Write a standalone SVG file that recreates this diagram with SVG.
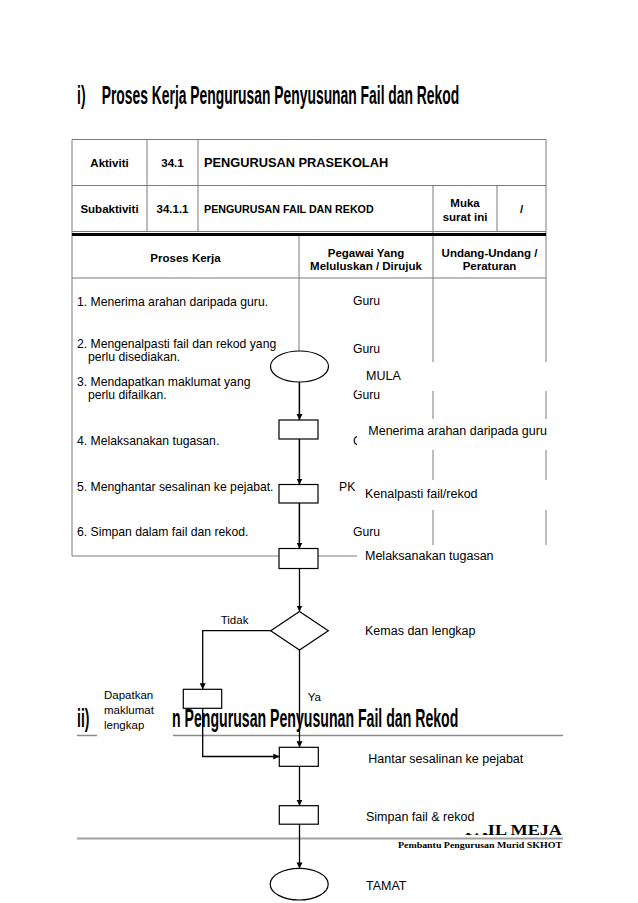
<svg xmlns="http://www.w3.org/2000/svg" width="638" height="903" viewBox="0 0 638 903">
<style>
.tl{stroke:#7a7a7a;stroke-width:1;fill:none}
.ul{stroke:#8a8a8a;stroke-width:1.4;fill:none}
.hb{font-family:"Liberation Sans",Arial,sans-serif;font-weight:bold;font-size:11.5px;fill:#000}
.tx{font-family:"Liberation Sans",Arial,sans-serif;font-size:12.2px;fill:#000}
.fl{font-family:"Liberation Sans",Arial,sans-serif;font-size:12.5px;fill:#000}
.sm{font-family:"Liberation Sans",Arial,sans-serif;font-size:11.5px;fill:#000}
.ttl{font-family:"Liberation Sans",Arial,sans-serif;font-weight:bold;font-size:25px;fill:#000}
.ft{font-family:"Liberation Serif","Times New Roman",serif;font-weight:bold;fill:#000}
.shape{fill:#fff;stroke:#000;stroke-width:1.2}
.cover{fill:#fff;stroke:none}
.conn{fill:none;stroke:#000;stroke-width:1.3;marker-end:url(#arr)}
.mid{text-anchor:middle}
</style>
<defs>
<marker id="arr" viewBox="0 0 10 10" refX="10" refY="5" markerWidth="6" markerHeight="7" markerUnits="userSpaceOnUse" orient="auto">
<path d="M0,0 L10,5 L0,10 z" fill="#000"/>
</marker>
<clipPath id="cutG"><rect x="340" y="425" width="17" height="25"/></clipPath>
</defs>
<rect width="638" height="903" fill="#fff"/>

<g id="title-i">
<text class="ttl" transform="translate(77,104) scale(0.56,1)" x="0" y="0">i)</text>
<text class="ttl" transform="translate(101.7,104) scale(0.555,1)" x="0" y="0">Proses Kerja Pengurusan Penyusunan Fail dan Rekod</text>
</g>

<g id="table">
<path class="tl" d="M72,139.5H546 M72,185.5H546 M72,231.5H546 M72,278H546 M72,556H546 M72,139.5V556 M546,139.5V556 M147,139.5V231.5 M198,139.5V231.5 M433,185.5V556 M497,185.5V231.5 M299,234V556"/>
<path d="M72,234.5H546" stroke="#000" stroke-width="3.2" fill="none"/>
<text class="hb mid" x="109.5" y="167">Aktiviti</text>
<text class="hb mid" x="172.5" y="167">34.1</text>
<text class="hb" x="204" y="167" style="font-size:12.8px">PENGURUSAN PRASEKOLAH</text>
<text class="hb mid" x="109.5" y="213">Subaktiviti</text>
<text class="hb mid" x="172.5" y="213">34.1.1</text>
<text class="hb" x="204" y="213" style="font-size:10.7px">PENGURUSAN FAIL DAN REKOD</text>
<text class="hb mid" x="465" y="207">Muka</text>
<text class="hb mid" x="465" y="221">surat ini</text>
<text class="hb mid" x="521.5" y="213">/</text>
<text class="hb mid" x="185.5" y="262">Proses Kerja</text>
<text class="hb mid" x="366" y="257">Pegawai Yang</text>
<text class="hb mid" x="366" y="269.5">Meluluskan / Dirujuk</text>
<text class="hb mid" x="489.5" y="257">Undang-Undang /</text>
<text class="hb mid" x="489.5" y="269.5">Peraturan</text>
<text class="tx" x="77" y="306">1. Menerima arahan daripada guru.</text>
<text class="tx" x="353" y="305">Guru</text>
<text class="tx" x="77" y="348">2. Mengenalpasti fail dan rekod yang</text>
<text class="tx" x="88" y="360.5">perlu disediakan.</text>
<text class="tx" x="353" y="352.5">Guru</text>
<text class="tx" x="77" y="386">3. Mendapatkan maklumat yang</text>
<text class="tx" x="88" y="398.5">perlu difailkan.</text>
<text class="tx" x="353" y="398.5">Guru</text>
<text class="tx" x="77" y="444.5">4. Melaksanakan tugasan.</text>
<text class="tx" x="353" y="444.5" clip-path="url(#cutG)">G</text>
<text class="tx" x="77" y="490.5">5. Menghantar sesalinan ke pejabat.</text>
<text class="tx" x="339" y="490.5">PK</text>
<text class="tx" x="77" y="536">6. Simpan dalam fail dan rekod.</text>
<text class="tx" x="353" y="536">Guru</text>
</g>

<g id="title-ii">
<text class="ttl" transform="translate(77,727) scale(0.56,1)" x="0" y="0">ii)</text>
<text class="ttl" transform="translate(172,727) scale(0.565,1)" x="0" y="0">n Pengurusan Penyusunan Fail dan Rekod</text>
<path class="ul" d="M77,735.5H97 M173,735.5H563"/>
</g>

<g id="footer">
<text class="ft" x="562" y="835" text-anchor="end" style="font-size:14px" textLength="97" lengthAdjust="spacingAndGlyphs">FAIL MEJA</text>
<path d="M77,838.5H563" stroke="#a0a0a0" stroke-width="2" fill="none"/>
<text class="ft" x="562" y="847.5" text-anchor="end" style="font-size:9px" textLength="164" lengthAdjust="spacingAndGlyphs">Pembantu Pengurusan Murid SKHOT</text>
</g>

<g id="node-mula">
<ellipse class="shape" cx="299.5" cy="366.5" rx="29" ry="15.5"/>
<rect class="cover" x="357" y="362" width="205" height="29"/>
<text class="fl" x="366" y="379.5">MULA</text>
</g>
<g id="node-menerima">
<rect class="shape" x="279" y="420" width="39" height="19"/>
<rect class="cover" x="357" y="419" width="205" height="31"/>
<text class="fl" x="368.3" y="434.5">Menerima arahan daripada guru</text>
</g>
<g id="node-kenalpasti">
<rect class="shape" x="279" y="484.5" width="39" height="18.5"/>
<rect class="cover" x="357" y="480" width="205" height="30"/>
<text class="fl" x="365" y="497.5">Kenalpasti fail/rekod</text>
</g>
<g id="node-melaksanakan">
<rect class="shape" x="279" y="548.5" width="39" height="20"/>
<rect class="cover" x="357" y="545" width="205" height="30"/>
<text class="fl" x="365" y="560">Melaksanakan tugasan</text>
</g>
<g id="node-kemas">
<polygon class="shape" points="299.5,611.5 328.3,630.7 299.5,650 270.7,630.7"/>
<text class="fl" x="365" y="634.5">Kemas dan lengkap</text>
</g>
<g id="node-dapatkan">
<rect class="shape" x="183.3" y="689.3" width="38.4" height="19"/>
<text class="sm" x="104" y="699">Dapatkan</text>
<text class="sm" x="104" y="714">maklumat</text>
<text class="sm" x="104" y="729">lengkap</text>
</g>
<g id="node-hantar">
<rect class="shape" x="279.3" y="747.3" width="39" height="19"/>
<text class="fl" x="368.3" y="762.8">Hantar sesalinan ke pejabat</text>
</g>
<g id="node-simpan">
<rect class="shape" x="279.3" y="805.7" width="39" height="18.5"/>
<rect class="cover" x="357" y="803" width="130" height="30"/>
<text class="fl" x="366" y="821">Simpan fail &amp; rekod</text>
</g>
<g id="node-tamat">
<ellipse class="shape" cx="299.2" cy="884.2" rx="29" ry="15.8"/>
<text class="fl" x="366" y="889.5">TAMAT</text>
</g>

<g id="connectors">
<path class="conn" d="M299.5,382V420"/>
<path class="conn" d="M299.5,439V484.5"/>
<path class="conn" d="M299.5,503V548.5"/>
<path class="conn" d="M299.5,568.5V611.5"/>
<path class="conn" d="M270.7,630.7H202.7V689.3"/>
<path class="conn" d="M299.5,650V747.3"/>
<path class="conn" d="M202.7,708.3V756.5H279.3"/>
<path class="conn" d="M299.5,766.3V805.7"/>
<path class="conn" d="M299.5,824.2V868.4"/>
<text class="sm" x="220.7" y="624">Tidak</text>
<text class="sm" x="307.7" y="701">Ya</text>
</g>
</svg>
